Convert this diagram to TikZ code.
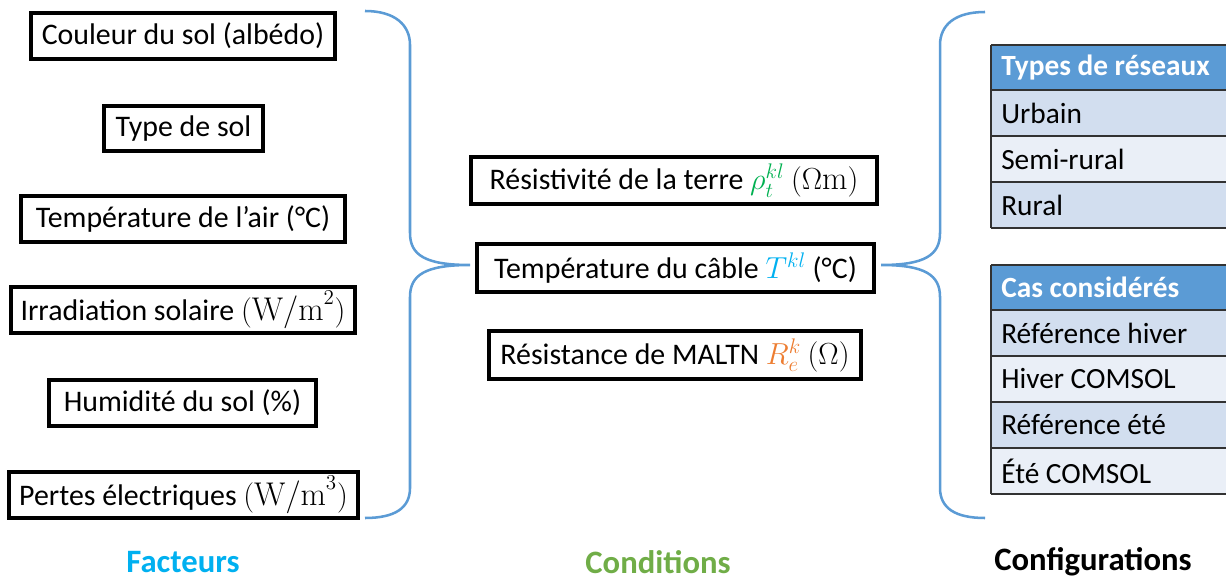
\documentclass[tikz,border=0pt]{standalone}
\usepackage{fontspec}
\setmainfont{Carlito}
\definecolor{bracec}{RGB}{91,155,213}
\definecolor{hdr}{RGB}{91,155,213}
\definecolor{bandA}{RGB}{210,222,239}
\definecolor{bandB}{RGB}{234,239,247}
\definecolor{cfact}{RGB}{0,176,240}
\definecolor{ccond}{RGB}{112,173,71}
\definecolor{crho}{RGB}{0,176,80}
\definecolor{cT}{RGB}{0,176,240}
\definecolor{cR}{RGB}{237,125,49}
\definecolor{gridc}{RGB}{50,50,50}
\newcommand\bxnode[6]{%
  \node[bxstyle, minimum width={(#4-#2)*0.75pt}, minimum height={(#5-#3)*0.75pt}]
    (#1) at ({(#2+#4)/2},{(#3+#5)/2}) {#6};}
\newcommand\rownode[5]{%
  \path[fill=#3] (991,#2) rectangle (1226,#2+#4);
  \node[rowstyle, anchor=west] (#1) at (1001,#2+#4/2) {#5};}
\newcommand\mymath[1]{\scalebox{1.1}{$#1$}}
\newcommand\lmser[1]{{\fontfamily{lmr}\selectfont #1}}
\begin{document}
\begin{tikzpicture}[x=0.75pt,y=-0.75pt,
  bxstyle/.style={draw, line width=2.3pt, inner sep=0pt, font=\fontsize{22.4}{26}\selectfont},
  rowstyle/.style={inner sep=0pt, font=\fontsize{22}{26}\selectfont},
  bracestyle/.style={draw=bracec, line width=1.9pt},
  lbl/.style={inner sep=0pt, font=\fontsize{24.5}{28}\selectfont\bfseries},
  gridline/.style={draw=gridc, line width=0.9pt}]
\useasboundingbox (0,0) rectangle (1226,580);
% left boxes
\bxnode{f1}{31}{13}{335}{59}{Couleur du sol (albédo)}
\bxnode{f2}{104}{106}{263}{151}{Type de sol}
\bxnode{f3}{21}{196}{345}{242}{Température de l’air (°C)}
\bxnode{f4}{11}{287}{355}{333}{Irradiation solaire \mymath{(\mbox{\lmser{W/m}}^2)}}
\bxnode{f5}{49}{380}{316}{426}{Humidité du sol (\%)}
\bxnode{f6}{9}{472}{358}{518}{Pertes électriques \mymath{(\mbox{\lmser{W/m}}^3)}}
% center boxes
\bxnode{c1}{471}{157}{877}{204}{Résistivité de la terre \textcolor{crho}{\mymath{\rho_t^{kl}}} \mymath{(\Omega\mbox{\lmser{m}})}}
\bxnode{c2}{477}{244}{874}{292}{Température du câble \textcolor{cT}{\mymath{T^{kl}}} (°C)}
\bxnode{c3}{489}{331}{861}{379}{Résistance de MALTN \textcolor{cR}{\mymath{R_e^k}} \mymath{(\Omega)}}
% left brace
\coordinate (lt) at (365,11);
\coordinate (lb) at (365,518);
\coordinate (ltip) at (470,265);
\path[bracestyle] (lt) .. controls (395,11) and (410,25) .. (410,45)
  -- (410,233) .. controls (410,255) and (425,265) .. (ltip)
  .. controls (425,265) and (410,275) .. (410,297)
  -- (410,488) .. controls (410,508) and (395,518) .. (lb);
% right brace
\coordinate (rt) at (985,12);
\coordinate (rb) at (985,518);
\coordinate (rtip) at (881,265);
\path[bracestyle] (rt) .. controls (955,12) and (940,25) .. (940,45)
  -- (940,233) .. controls (940,255) and (925,265) .. (rtip)
  .. controls (925,265) and (940,275) .. (940,297)
  -- (940,488) .. controls (940,508) and (955,518) .. (rb);
% table 1
\rownode{t1h}{45}{hdr}{45}{\textcolor{white}{\bfseries Types de réseaux}}
\rownode{t1a}{90}{bandA}{46}{Urbain}
\rownode{t1b}{136}{bandB}{46}{Semi-rural}
\rownode{t1c}{182}{bandA}{46}{Rural}
\foreach \yy in {45,90,136,182,228} \draw[gridline] (991,\yy) -- (1226,\yy);
\draw[gridline] (991,45) -- (991,228);
% table 2
\rownode{t2h}{265}{hdr}{45}{\textcolor{white}{\bfseries Cas considérés}}
\rownode{t2a}{310}{bandA}{46}{Référence hiver}
\rownode{t2b}{356}{bandB}{46}{Hiver COMSOL}
\rownode{t2c}{402}{bandA}{46}{Référence été}
\rownode{t2d}{448}{bandB}{46}{Été COMSOL}
\foreach \yy in {265,310,356,402,448,494} \draw[gridline] (991,\yy) -- (1226,\yy);
\draw[gridline] (991,265) -- (991,494);
% bottom labels
\node[lbl, text=cfact] (lf) at (183,562) {Facteurs};
\node[lbl, text=ccond] (lc) at (658,562) {Conditions};
\node[lbl] (lcfg) at (1093,562) {Configurations};
\end{tikzpicture}
\end{document}
